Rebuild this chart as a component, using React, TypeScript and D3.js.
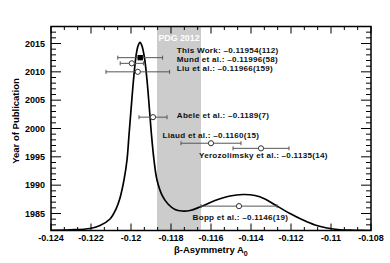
import React from "react";
import * as d3 from "d3";

const W = 390, H = 263;
const M = { left: 51, right: 19, top: 26.5, bottom: 32.5 };

const xDomain = [-0.124, -0.108];
const yDomain = [1982, 2018];
const xTicks = [-0.124, -0.122, -0.12, -0.118, -0.116, -0.114, -0.112, -0.11, -0.108];
const xTickLabels = ["-0.124", "-0.122", "-0.12", "-0.118", "-0.116", "-0.114", "-0.112", "-0.11", "-0.108"];
const yTicks = [1985, 1990, 1995, 2000, 2005, 2010, 2015];

const pdgBand = [-0.1187, -0.1165];

const names = ["This Work", "Mund et al.", "Liu et al.", "Abele et al.", "Liaud et al.", "Yerozolimsky et al.", "Bopp et al."];
const values = [-0.11954, -0.11996, -0.11966, -0.1189, -0.116, -0.1135, -0.1146];
const errors = [0.00112, 0.00058, 0.00159, 0.0007, 0.0015, 0.0014, 0.0019];
const years = [2012.5, 2011.5, 2010, 2002, 1997.4, 1996.5, 1986.3];
const valueTexts = ["–0.11954(112)", "–0.11996(58)", "–0.11966(159)", "–0.1189(7)", "–0.1160(15)", "–0.1135(14)", "–0.1146(19)"];
// label anchor: [A0 position, year position]
const labelX = [-0.11771, -0.11771, -0.11771, -0.11771, -0.11842, -0.1166, -0.11692];
const labelY = [2013.4, 2011.8, 2010.2, 2001.9, 1998.4, 1994.85, 1983.85];

const curveX = [-0.124, -0.12305, -0.12205, -0.12155, -0.12105, -0.12075, -0.12055, -0.12035, -0.1202, -0.1201, -0.12, -0.119875, -0.11975, -0.11965, -0.11955, -0.11945, -0.119325, -0.1192, -0.119075, -0.118975, -0.11885, -0.1187, -0.11845, -0.11815, -0.1178, -0.11745, -0.11705, -0.11655, -0.1158, -0.11505, -0.1144, -0.1138, -0.1133, -0.1127, -0.11205, -0.1114, -0.1108, -0.1102, -0.10955, -0.1088, -0.108];
const curveY = [1982.04, 1982.12, 1982.35, 1982.88, 1984.03, 1985.79, 1987.74, 1990.92, 1994.44, 1998.85, 2003.26, 2008.56, 2012.79, 2014.56, 2015.21, 2014.56, 2012.44, 2008.56, 2003.26, 1998.85, 1994.44, 1990.92, 1988.26, 1986.68, 1985.71, 1985.44, 1985.53, 1986.15, 1987.29, 1988.09, 1988.35, 1988.18, 1987.56, 1986.32, 1985.0, 1983.85, 1982.97, 1982.44, 1982.12, 1982.04, 1982.0];

export default function App() {
  const x = d3.scaleLinear().domain(xDomain).range([M.left, W - M.right]);
  const y = d3.scaleLinear().domain(yDomain).range([H - M.bottom, M.top]);
  const x0 = M.left, x1 = W - M.right, y0 = H - M.bottom, y1 = M.top;

  const pts = curveX.map((v, i) => [v, curveY[i]] as [number, number]);
  const line = d3.line<[number, number]>().x(d => x(d[0])).y(d => y(d[1])).curve(d3.curveCatmullRom.alpha(0.5));

  const xMinor: number[] = [];
  for (let i = 0; i <= 24; i++) xMinor.push(xDomain[0] + (i * 0.002) / 3);
  const yMinor = d3.range(yDomain[0], yDomain[1] + 0.01, 1);

  const font = "'Liberation Sans', Arial, Helvetica, sans-serif";
  const ebColor = "#555";

  return (
    <svg width={W} height={H} style={{ position: "absolute", left: 0, top: 0, background: "#fff" }} fontFamily={font}>
      <defs>
        <clipPath id="plot">
          <rect x={x0} y={y1} width={x1 - x0} height={y0 - y1} />
        </clipPath>
      </defs>
      <rect x={x(pdgBand[0])} y={y1} width={x(pdgBand[1]) - x(pdgBand[0])} height={y0 - y1} fill="#cccccc" />
      <text x={(x(pdgBand[0]) + x(pdgBand[1])) / 2} y={y1 + 14} fill="#fff" fontSize={8.8} fontWeight="bold" textAnchor="middle">PDG 2012</text>

      <path d={line(pts) || ""} fill="none" stroke="#000" strokeWidth={1.7} clipPath="url(#plot)" />

      {values.map((v, i) => (
        <g key={names[i]}>
          <line x1={x(v - errors[i])} x2={x(v + errors[i])} y1={y(years[i])} y2={y(years[i])} stroke={ebColor} strokeWidth={1} />
          <line x1={x(v - errors[i])} x2={x(v - errors[i])} y1={y(years[i]) - 2} y2={y(years[i]) + 2} stroke={ebColor} strokeWidth={1} />
          <line x1={x(v + errors[i])} x2={x(v + errors[i])} y1={y(years[i]) - 2} y2={y(years[i]) + 2} stroke={ebColor} strokeWidth={1} />
          {i === 0 ? (
            <rect x={x(v) - 2.7} y={y(years[i]) - 2.7} width={5.4} height={5.4} fill="#000" />
          ) : (
            <circle cx={x(v)} cy={y(years[i])} r={2.6} fill="#fff" stroke="#333" strokeWidth={1} />
          )}
          <text x={x(labelX[i])} y={y(labelY[i])} fontSize={8.1} letterSpacing={0.25} fontWeight="bold" fill="#111">
            {names[i] + ":  " + valueTexts[i]}
          </text>
        </g>
      ))}

      {/* frame */}
      <rect x={x0} y={y1} width={x1 - x0} height={y0 - y1} fill="none" stroke="#000" strokeWidth={1.5} />

      {/* x ticks */}
      {xMinor.map((t, i) => (
        <g key={"xm" + i}>
          <line x1={x(t)} x2={x(t)} y1={y0} y2={y0 - (i % 3 === 0 ? 7 : 3.5)} stroke="#000" strokeWidth={1} />
          <line x1={x(t)} x2={x(t)} y1={y1} y2={y1 + (i % 3 === 0 ? 7 : 3.5)} stroke="#000" strokeWidth={1} />
        </g>
      ))}
      {xTicks.map((t, i) => (
        <text key={"xl" + i} x={x(t)} y={y0 + 10.5} fontSize={9} fontWeight="bold" textAnchor="middle">{xTickLabels[i]}</text>
      ))}

      {/* y ticks */}
      {yMinor.map((t, i) => {
        const major = Math.round(t) % 5 === 0;
        return (
          <g key={"ym" + i}>
            <line x1={x0} x2={x0 + (major ? 10 : 5)} y1={y(t)} y2={y(t)} stroke="#000" strokeWidth={1} />
            <line x1={x1} x2={x1 - (major ? 10 : 5)} y1={y(t)} y2={y(t)} stroke="#000" strokeWidth={1} />
          </g>
        );
      })}
      {yTicks.map(t => (
        <text key={"yl" + t} x={x0 - 6} y={y(t) + 3.3} fontSize={9} fontWeight="bold" textAnchor="end">{t}</text>
      ))}

      <text x={174} y={252.5} fontSize={9.5} fontWeight="bold">
        β-Asymmetry A<tspan fontSize={7} dy={3}>0</tspan>
      </text>
      <text transform={`translate(18.5, 121) rotate(-90)`} fontSize={9.5} fontWeight="bold" textAnchor="middle">Year of Publication</text>
    </svg>
  );
}
